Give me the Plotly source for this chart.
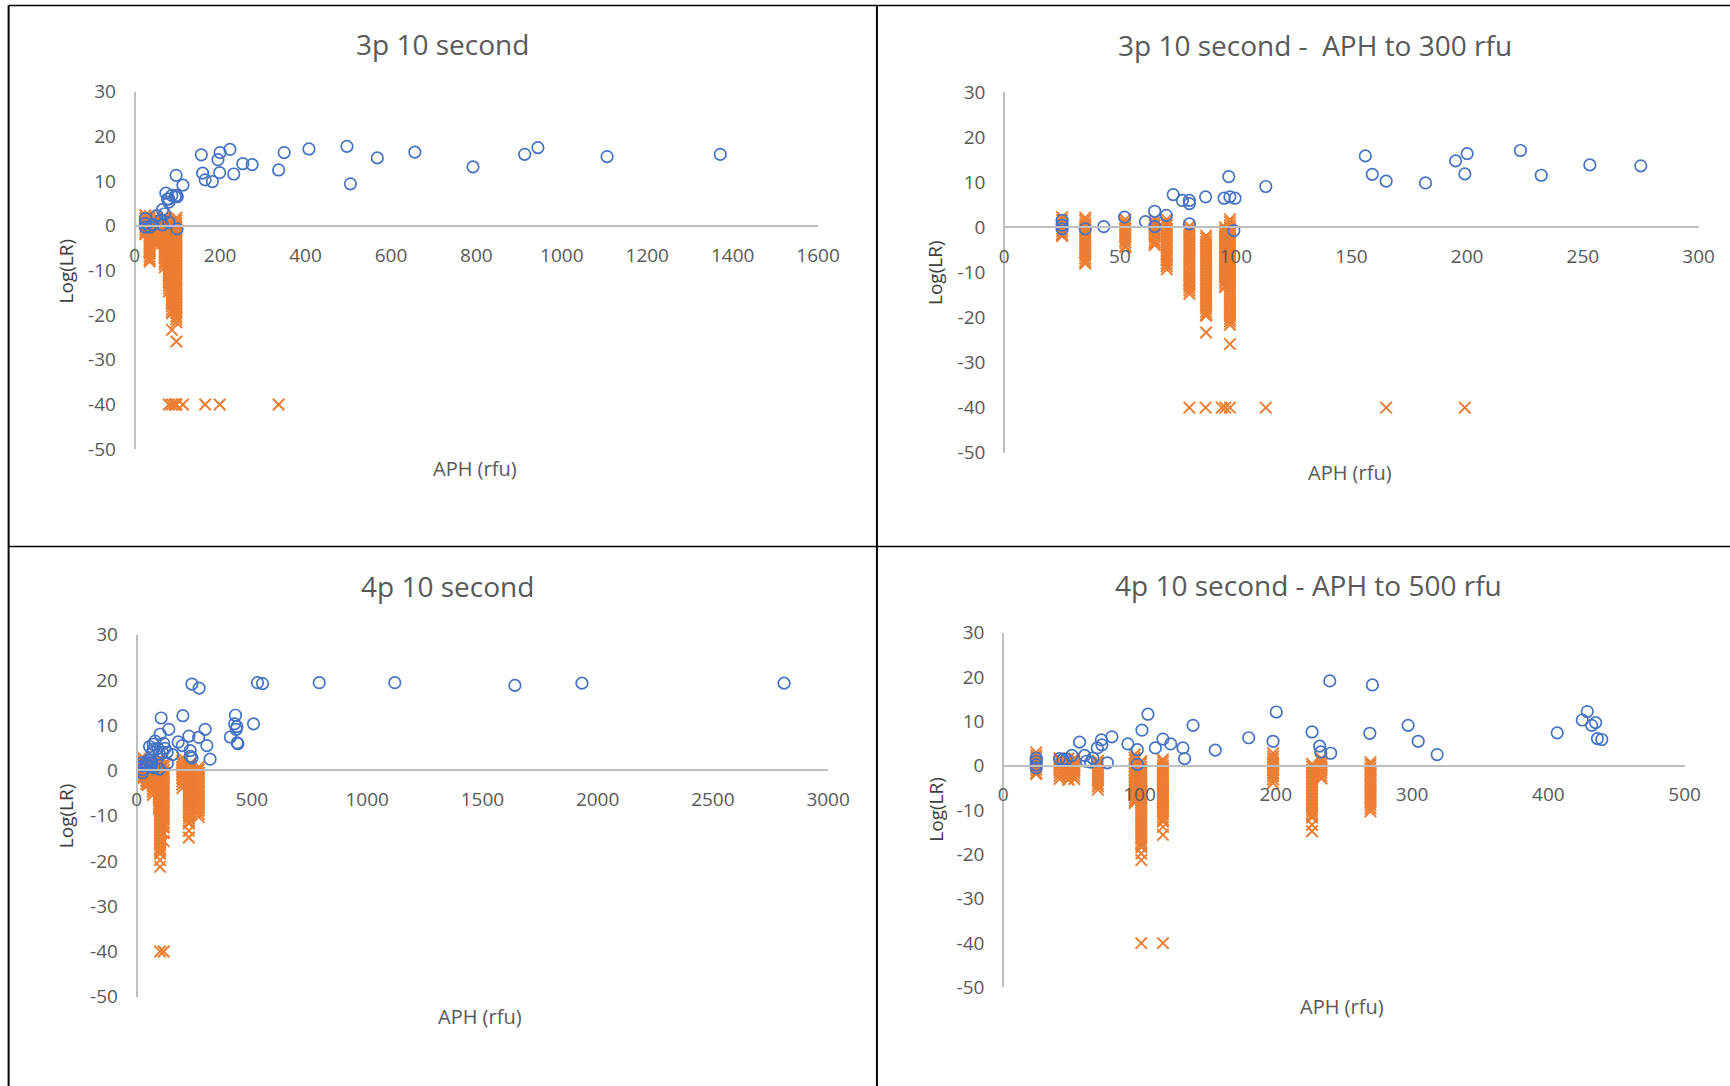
import plotly.graph_objects as go

# ---------------- 3p 10 second ----------------
p3_blue_x = [25, 25, 25, 35, 43, 52, 61, 65, 65, 70, 73, 77, 80, 80, 80, 87, 95, 97, 97.5, 99.7, 99.2, 113,
             156, 159, 165, 182, 195, 200, 199, 223, 232, 253, 275,
             337, 350, 408, 497, 505, 568, 656, 792, 913, 944, 1106, 1371]
p3_blue_y = [1.6, 0.5, -0.3, -0.3, 0.2, 2.3, 1.3, 3.6, 0.2, 2.7, 7.3, 6.0, 6.0, 5.3, 0.8, 6.8, 6.5, 11.3, 6.8, 6.5, -0.7, 9.1,
             15.9, 11.8, 10.3, 9.9, 14.8, 16.4, 11.9, 17.1, 11.6, 13.9, 13.7,
             12.5, 16.4, 17.2, 17.8, 9.4, 15.2, 16.5, 13.2, 16.0, 17.5, 15.5, 16.0]

# orange (non-contributor) LRs, one column per sample APH
p3_col_x = [25, 35, 52.3, 65, 70.2, 80, 87.2, 95.4, 97.5]
p3_c25 = [2.3, 1.7, 1.0, 0.4, -0.3, -0.9, -1.5, -1.9]
p3_c35 = [2.2, 1.6, 0.9, 0.3, -0.4, -1.0, -1.7, -2.3, -3.0, -3.6, -4.3, -4.9, -5.6, -6.2, -6.9, -7.5, -8.0]
p3_c52 = [1.8, 1.1, 0.5, -0.2, -0.8, -1.5, -2.1, -2.8, -3.4, -4.1, -4.4]
p3_c65 = [1.8, 1.1, 0.5, -0.2, -0.8, -1.5, -2.1, -2.8, -3.4, -3.9]
p3_c70 = [1.8, 1.1, 0.5, -0.2, -0.8, -1.5, -2.1, -2.8, -3.4, -4.1, -4.7, -5.4, -6.0, -6.7, -7.3, -8.0, -8.6, -9.3]
p3_c80 = [0.3, -0.3, -1.0, -1.6, -2.3, -2.9, -3.6, -4.2, -4.9, -5.5, -6.2, -6.8, -7.5, -8.1, -8.8, -9.4,
          -10.1, -10.7, -11.4, -12.0, -12.7, -13.3, -14.0, -14.7]
p3_c87 = [-1.8, -2.4, -3.1, -3.7, -4.4, -5.0, -5.7, -6.3, -7.0, -7.6, -8.3, -8.9, -9.6, -10.2, -10.9, -11.5,
          -12.2, -12.8, -13.5, -14.1, -14.8, -15.4, -16.1, -16.7, -17.4, -18.0, -18.7, -19.3, -19.6, -23.3]
p3_c95 = [0.0, -0.6, -1.3, -1.9, -2.6, -3.2, -3.9, -4.5, -5.2, -5.8, -6.5, -7.1, -7.8, -8.4, -9.1, -9.7,
          -10.4, -11.0, -11.7, -12.3, -13.0, -13.2]
p3_c97 = [1.8, 1.2, 0.5, -0.1, -0.8, -1.4, -2.1, -2.7, -3.4, -4.0, -4.7, -5.3, -6.0, -6.6, -7.3, -7.9,
          -8.6, -9.2, -9.9, -10.5, -11.2, -11.8, -12.5, -13.1, -13.8, -14.4, -15.1, -15.7, -16.4, -17.0,
          -17.7, -18.3, -19.0, -19.6, -20.3, -20.9, -21.6, -25.9]
p3_col_y = [p3_c25, p3_c35, p3_c52, p3_c65, p3_c70, p3_c80, p3_c87, p3_c95, p3_c97]
p3_floor_x = [80, 87, 94, 95.5, 97.5, 113, 165, 199, 337]
p3_floor_y = [-40, -40, -40, -40, -40, -40, -40, -40, -40]

# ---------------- 4p 10 second ----------------
p4_blue_x = [24.2, 24.2, 24.2, 24.2, 41.3, 43.8, 46.3, 50.4, 56, 59.7, 61, 64.1, 65.8, 69, 72, 72.4, 76.4, 79.8,
             91.5, 98.4, 98.4, 101.8, 106.2, 111.6, 117.2, 122.9, 131.9, 133.1, 139.3, 155.6, 180.1, 198, 200.4,
             226.6, 232.2, 233, 240.3, 239.6, 270.9, 269, 297.1, 304.5, 318.4, 406.5, 424.9, 428.6, 434.7,
             431.8, 436, 439.2,
             507, 524, 546, 792, 1120, 1641, 1932, 2809]
p4_blue_y = [1.7, 1.0, 0.2, -0.5, 1.6, 1.4, 1.4, 2.3, 5.3, 2.3, 1.0, 0.8, 1.7, 4.0, 5.8, 4.7, 0.65, 6.5,
             4.9, 3.6, 0.3, 8.0, 11.6, 4.0, 6.0, 4.9, 4.0, 1.6, 9.1, 3.5, 6.3, 5.5, 12.1,
             7.6, 4.4, 3.1, 2.8, 19.1, 18.2, 7.3, 9.1, 5.5, 2.5, 7.4, 10.3, 12.2, 9.7,
             9.1, 6.1, 5.9,
             10.3, 19.4, 19.2, 19.4, 19.4, 18.8, 19.3, 19.3]

p4_col_x = [24.2, 41.3, 47.8, 52.2, 69.5, 96.5, 101.3, 117.2, 198, 226.6, 233.5, 269.5]
p4_c24 = [3.0, 2.3, 1.7, 1.0, 0.4, -0.3, -0.9, -1.6, -1.9]
p4_c41 = [1.6, 1.0, 0.3, -0.3, -1.0, -1.6, -2.3, -3.0]
p4_c48 = [1.6, 0.9, 0.3, -0.4, -1.0, -1.7, -2.3, -3.0, -3.2]
p4_c52 = [1.6, 1.0, 0.3, -0.3, -1.0, -1.6, -2.3, -3.0]
p4_c70 = [1.1, 0.5, -0.2, -0.8, -1.5, -2.1, -2.8, -3.4, -4.1, -4.7, -5.4]
p4_c97 = [2.5, 1.8, 1.2, 0.5, -0.1, -0.8, -1.4, -2.1, -2.7, -3.4, -4.0, -4.7, -5.3, -6.0, -6.6, -7.3, -7.9, -8.4]
p4_c101 = [1.0, 0.4, -0.3, -0.9, -1.6, -2.2, -2.9, -3.5, -4.2, -4.8, -5.5, -6.1, -6.8, -7.4, -8.1, -8.7,
           -9.4, -10.0, -10.7, -11.3, -12.0, -12.6, -13.3, -13.9, -14.6, -15.2, -15.9, -16.5, -17.2, -17.8,
           -18.4, -19.8, -21.3]
p4_c117 = [1.4, 0.8, 0.1, -0.5, -1.2, -1.8, -2.5, -3.1, -3.8, -4.4, -5.1, -5.7, -6.4, -7.0, -7.7, -8.3,
           -9.0, -9.6, -10.3, -10.9, -11.6, -12.2, -12.6, -13.8, -15.6]
p4_c198 = [2.8, 2.1, 1.5, 0.8, 0.2, -0.5, -1.1, -1.8, -2.4, -3.1, -3.9]
p4_c227 = [0.4, -0.2, -0.9, -1.5, -2.2, -2.8, -3.5, -4.1, -4.8, -5.4, -6.1, -6.7, -7.4, -8.0, -8.7, -9.3,
           -10.0, -10.6, -11.3, -11.7, -13.3, -14.8]
p4_c234 = [1.6, 1.0, 0.3, -0.3, -1.0, -1.6, -2.3, -2.9]
p4_c270 = [0.8, 0.2, -0.5, -1.1, -1.8, -2.4, -3.1, -3.7, -4.4, -5.0, -5.7, -6.3, -7.0, -7.6, -8.3, -8.9, -9.6, -10.3]
p4_col_y = [p4_c24, p4_c41, p4_c48, p4_c52, p4_c70, p4_c97, p4_c101, p4_c117, p4_c198, p4_c227, p4_c234, p4_c270]
p4_floor_x = [101.3, 117.2]
p4_floor_y = [-40, -40]

titles = ["3p 10 second", "3p 10 second -  APH to 300 rfu", "4p 10 second", "4p 10 second - APH to 500 rfu"]
x_title = "APH (rfu)"
y_title = "Log(LR)"
x_ranges = [[0, 1600], [0, 300], [0, 3000], [0, 500]]
x_dticks = [200, 50, 500, 100]
y_range = [-50, 30]
y_tick_vals = [-50, -40, -30, -20, -10, 0, 10, 20, 30]
y_tick_text = ["-50", "-40", "-30", "-20", "-10", "0", "10", "20", "30"]

# ---------------- styling / layout ----------------
FONT = "Open Sans, Noto Sans, sans-serif"
TXT = "#595959"
AXC = "#BFBFBF"
BLUE = "#4472C4"
ORANGE = "#ED7D31"

# Positions are measured on the 1730x1086 target picture; they are mapped to
# figure pixels with the offset/scale observed between figure and picture.
SHIFT_UP = 9                       # css px the graph div is raised by (post_script)
SX, SY = 0.984, 0.9753
CX, CY = 4.4, 14.3 - SHIFT_UP * 0.9753
FW, FH = 1754, 1110

def fxp(x):           # picture x -> figure pixel
    return (x - CX) / SX

def fyp(y):           # picture y -> figure pixel
    return (y - CY) / SY

def px(x):
    return fxp(x) / FW

def py(y):
    return 1 - fyp(y) / FH

# plot boxes: (left, right, top(y=30), bottom(y=-50)) in picture pixels
boxes = [(134, 817, 93.2, 450.1), (1003, 1697, 93.8, 453.6),
         (136, 827, 635.4, 997.0), (1002, 1683, 633.3, 987.7)]
title_pos = [(442, 45), (1314, 46), (447, 587), (1307, 586)]
xt_pos = [(474, 469), (1349, 473), (479, 1017), (1341, 1007)]
yt_pos = [(65, 272), (934, 274), (65, 816), (934, 810)]

def flat_cols(cx, cy):
    xs, ys = [], []
    for x, col in zip(cx, cy):
        xs += [x] * len(col)
        ys += col
    return xs, ys

fig = go.Figure()
layout = dict(width=FW, height=FH, margin=dict(l=0, r=0, t=0, b=0), autosize=False,
              paper_bgcolor="white", plot_bgcolor="white", showlegend=False,
              annotations=[], shapes=[])

datasets = [
    (p3_col_x, p3_col_y, p3_floor_x, p3_floor_y, p3_blue_x, p3_blue_y),
    (p3_col_x, p3_col_y, p3_floor_x, p3_floor_y, p3_blue_x, p3_blue_y),
    (p4_col_x, p4_col_y, p4_floor_x, p4_floor_y, p4_blue_x, p4_blue_y),
    (p4_col_x, p4_col_y, p4_floor_x, p4_floor_y, p4_blue_x, p4_blue_y),
]

for i in range(4):
    n = "" if i == 0 else str(i + 1)
    l, r, t, b = boxes[i]
    cx, cy, fx, fy, bx, by = datasets[i]
    xmax = x_ranges[i][1]
    ox, oy = flat_cols(cx, cy)
    ox += fx
    oy += fy
    keep = [k for k in range(len(ox)) if ox[k] <= xmax]
    fig.add_trace(go.Scatter(
        x=[ox[k] for k in keep], y=[oy[k] for k in keep], mode="markers",
        xaxis="x" + n, yaxis="y" + n, hoverinfo="skip",
        marker=dict(symbol="x-thin", size=11.5, color=ORANGE, line=dict(width=2, color=ORANGE))))
    keepb = [k for k in range(len(bx)) if bx[k] <= xmax]
    fig.add_trace(go.Scatter(
        x=[bx[k] for k in keepb], y=[by[k] for k in keepb], mode="markers",
        xaxis="x" + n, yaxis="y" + n, hoverinfo="skip",
        marker=dict(symbol="circle-open", size=11.5, color=BLUE, line=dict(width=1.7, color=BLUE))))

    zero_y = t + (b - t) * (y_range[1] - 0) / (y_range[1] - y_range[0])
    layout["xaxis" + n] = dict(
        domain=[px(l), px(r)], range=x_ranges[i], dtick=x_dticks[i], tick0=0,
        anchor="free", position=py(zero_y), showline=True, linecolor=AXC, linewidth=2,
        showgrid=False, zeroline=False, ticks="", ticklabelstandoff=12,
        tickfont=dict(family=FONT, size=19, color=TXT), fixedrange=True)
    layout["yaxis" + n] = dict(
        domain=[py(b), py(t)], range=y_range, tickmode="array", tickvals=y_tick_vals, ticktext=y_tick_text,
        anchor="free", position=px(l), showline=True, linecolor=AXC, linewidth=2,
        showgrid=False, zeroline=False, ticks="", ticklabelstandoff=14,
        tickfont=dict(family=FONT, size=19, color=TXT), fixedrange=True)

    tx, ty = title_pos[i]
    layout["annotations"].append(dict(text=titles[i], x=px(tx), y=py(ty), xref="paper", yref="paper",
                                      xanchor="center", yanchor="middle", showarrow=False,
                                      font=dict(family=FONT, size=28, color=TXT)))
    ax_, ay_ = xt_pos[i]
    layout["annotations"].append(dict(text=x_title, x=px(ax_), y=py(ay_), xref="paper", yref="paper",
                                      xanchor="center", yanchor="middle", showarrow=False,
                                      font=dict(family=FONT, size=20, color=TXT)))
    yx, yy = yt_pos[i]
    layout["annotations"].append(dict(text=y_title, x=px(yx), y=py(yy), xref="paper", yref="paper",
                                      xanchor="center", yanchor="middle", showarrow=False, textangle=-90,
                                      font=dict(family=FONT, size=19, color="#404040")))

# panel border lines (picture pixels)
top_y = max(7.0, CY + 0.8 * SY)
borders = [((8, top_y), (1730, top_y), 1.5), ((8, top_y), (8, 1086), 2),
           ((875.8, top_y), (875.8, 1086), 2), ((8, 547.3), (1730, 547.3), 1.5)]
for (x0, y0), (x1, y1), w in borders:
    layout["shapes"].append(dict(type="line", xref="paper", yref="paper", x0=px(x0), y0=py(y0),
                                 x1=px(x1), y1=py(y1), line=dict(color="black", width=w)))

fig.update_layout(**layout)
fig.write_html("out.html", config={"responsive": False, "displayModeBar": False},
               post_script="var gd=document.getElementById('{plot_id}');gd.style.position='relative';"
                           "gd.style.top='-%dpx';" % SHIFT_UP)
